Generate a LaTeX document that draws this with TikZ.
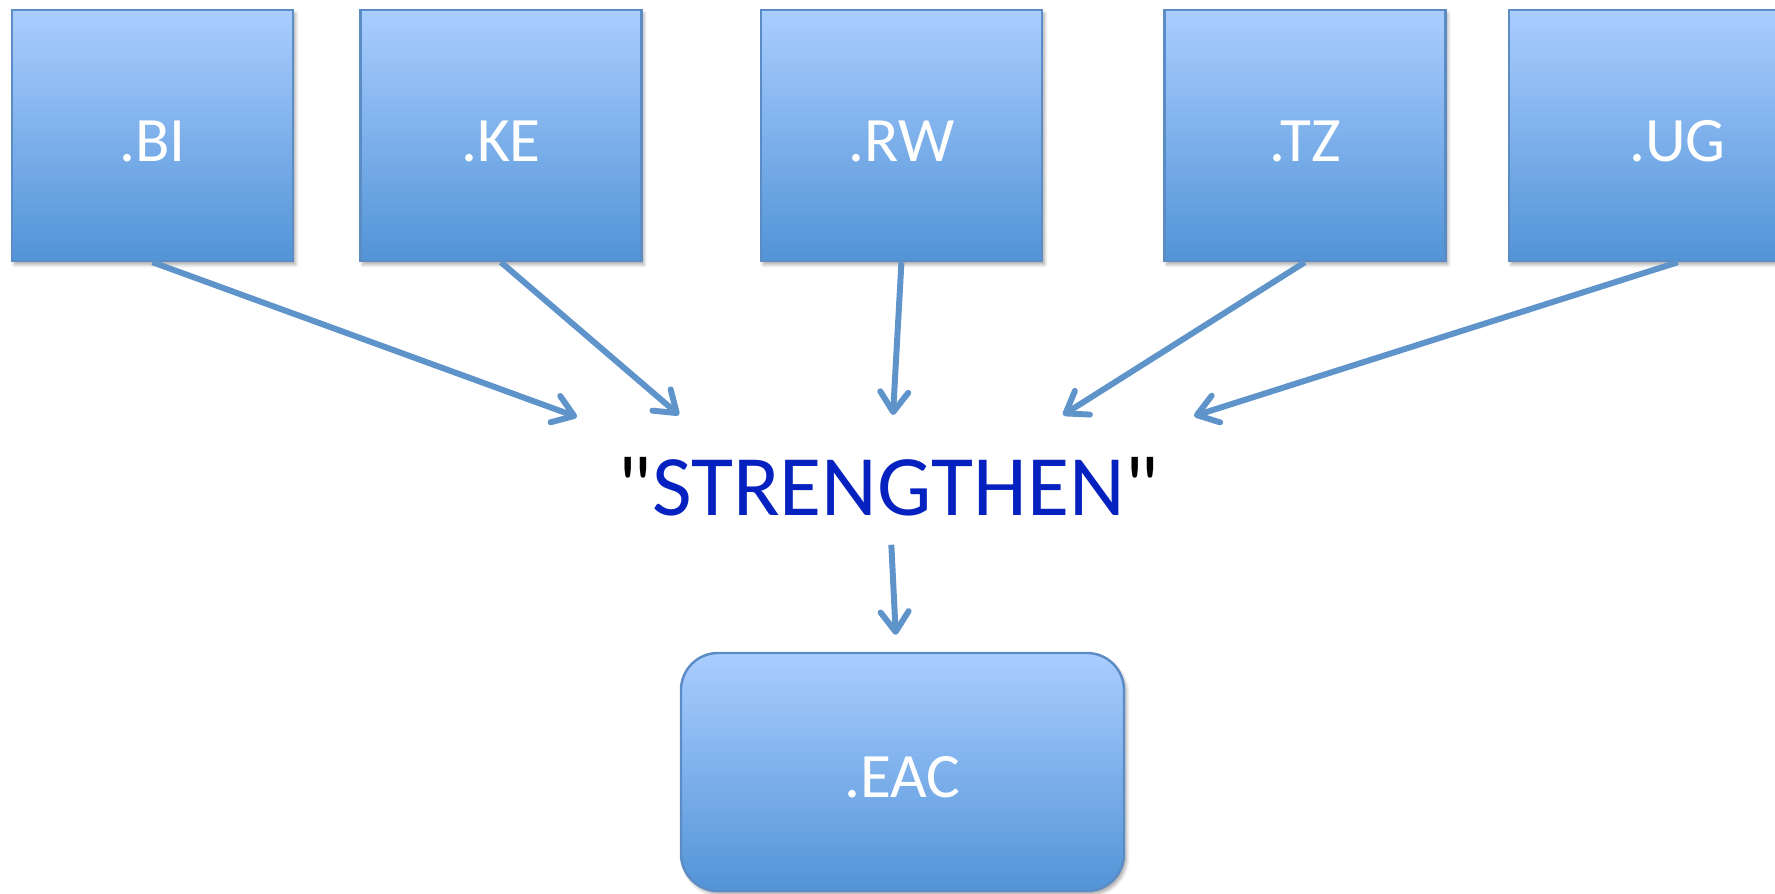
\documentclass[tikz,border=0pt]{standalone}
\usepackage{fontspec}
\setmainfont{Carlito}
\newfontfamily\quotefont{Carlito}[Ligatures=TeXOff]
\usepackage{tikz}
\usetikzlibrary{positioning,arrows.meta,shadows.blur}
\usepackage{xcolor}
\definecolor{boxtop}{RGB}{170,205,255}
\definecolor{boxbot}{RGB}{82,148,215}
\definecolor{boxline}{RGB}{92,140,198}
\definecolor{arrowblue}{RGB}{95,148,203}
\definecolor{strblue}{RGB}{5,34,192}

\begin{document}
\begin{tikzpicture}[
		node distance=1.3cm,  % 方框间距
		box/.style={rectangle, draw=boxline, line width=1.4pt, top color=boxtop, bottom color=boxbot, minimum width=5.62cm, minimum height=5.02cm, text=white, font=\fontsize{36}{43}\selectfont, text height=1.02cm, text depth=0cm, blur shadow={shadow xshift=0.05cm, shadow yshift=-0.07cm, shadow opacity=35, shadow blur steps=6}},
		eacbox/.style={box, rounded corners=0.74cm, minimum width=8.86cm, minimum height=4.76cm},  % 圆角方框
		arrow/.style={-{Straight Barb[length=0.4cm, width=0.56cm, round]}, draw=arrowblue, line width=3.4pt}
		]
		\useasboundingbox (0,0) rectangle (35.5,-17.86);
		% 上方一排方框 - 从左到右
		\node[box] (bi) at (3.05,-2.71) {.BI};
		\node[box, right=1.3cm of bi] (ke) {.KE};
		\node[box, right=2.34cm of ke] (rw) {.RW};
		\node[box, right=2.4cm of rw] (tz) {.TZ};
		\node[box, minimum width=6.76cm, right=1.22cm of tz] (ug) {.UG};  % 右边被裁掉
		% 中间文字
		\node[inner sep=0.56cm, font=\fontsize{49}{59}\selectfont] (strengthen) at (17.77,-9.74) {{\quotefont"}\textcolor{strblue}{STRENGTHEN}{\quotefont"}};
		% 下方圆角方框
		\node[eacbox] (eac) at (18.05,-15.44) {.EAC};
		% 箭头终点
		\coordinate (tbi) at (11.54,-8.34);
		\coordinate (tke) at (13.58,-8.30);
		\coordinate (trw) at (17.86,-8.30);
		\coordinate (ttz) at (21.26,-8.30);
		\coordinate (tug) at (23.88,-8.32);
		% 连接箭头
		\draw[arrow] (bi.south) -- (tbi);
		\draw[arrow] (ke.south) -- (tke);
		\draw[arrow] (rw.south) -- (trw);
		\draw[arrow] (tz.south) -- (ttz);
		\draw[arrow] (ug.south) -- (tug);
		\draw[arrow, shorten >=0.34cm] (strengthen) -- (eac);
	\end{tikzpicture}
\end{document}
